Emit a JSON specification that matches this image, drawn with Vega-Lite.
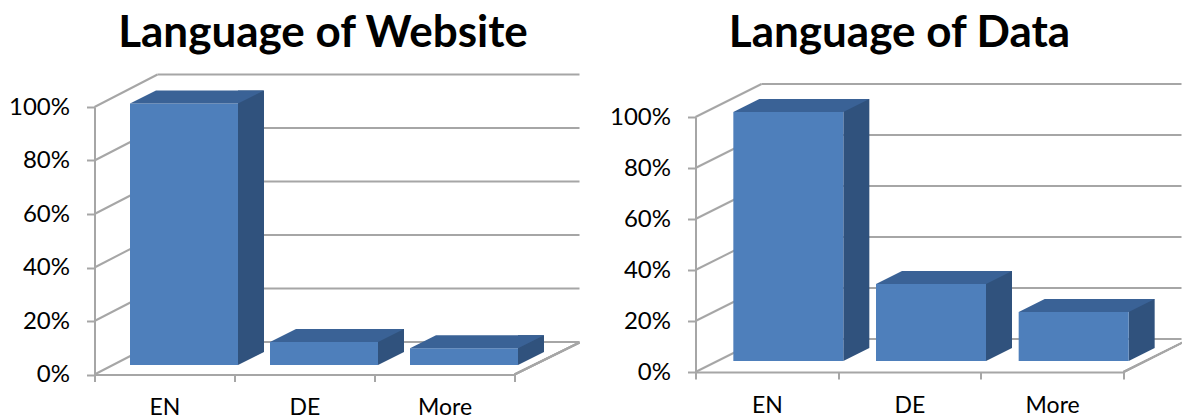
{"$schema":"https://vega.github.io/schema/vega-lite/v6.json","background":"white","padding":{"left":8.5,"top":12,"right":0,"bottom":0},"bounds":"flush","spacing":116,"config":{"view":{"stroke":null},"font":"Lato","axis":{"labelFont":"Lato","labelColor":"#000000","grid":false,"title":null}},"hconcat":[{"width":485,"height":314.5,"title":{"text":"Language of Website","font":"Lato","fontWeight":"bold","fontSize":44,"color":"#000000","anchor":"middle","dx":-14,"offset":4},"layer":[{"data":{"values":[{"tick":0},{"tick":20},{"tick":40},{"tick":60},{"tick":80},{"tick":100}]},"layer":[{"mark":{"type":"rule","yOffset":-32.5,"color":"#A6A6A6","strokeWidth":2},"encoding":{"y":{"field":"tick","type":"quantitative","scale":{"domain":[0,100],"range":[314.5,47]},"axis":{"values":[0,20,40,60,80,100],"labelExpr":"datum.value+'%'","labelFontSize":24,"labelPadding":17,"tickSize":8,"tickWidth":2,"tickColor":"#A6A6A6","domainColor":"#A6A6A6","domainWidth":2}},"x":{"value":63},"x2":{"value":485}}},{"mark":{"type":"point","shape":"M0 0 L63 -32.5","size":4,"filled":false,"stroke":"#A6A6A6","strokeWidth":2,"opacity":1},"encoding":{"y":{"field":"tick","type":"quantitative"},"x":{"value":0}}}]},{"data":{"values":[{"lang":"EN","value":97.8},{"lang":"DE","value":8.6},{"lang":"More","value":6.3}]},"encoding":{"x":{"field":"lang","type":"nominal","sort":null,"scale":{"domain":["EN","DE","More"],"range":[0,420],"padding":0},"axis":{"labelAngle":0,"labelFontSize":23,"labelPadding":15,"labelBaseline":"top","tickBand":"extent","tickSize":7,"tickWidth":2,"tickColor":"#A6A6A6","domainColor":"#A6A6A6","domainWidth":2}},"y":{"field":"value","type":"quantitative","stack":null},"y2":{"datum":0}},"layer":[{"mark":{"type":"point","shape":"M420 0 L485 -32","size":4,"filled":false,"stroke":"#A6A6A6","strokeWidth":2,"opacity":1},"encoding":{"x":{"value":0},"y":{"datum":0},"y2":null}},{"mark":{"type":"bar","size":26,"xOffset":86.5,"yOffset":-22.5,"y2Offset":-22.5,"color":"#30527D"}},{"mark":{"type":"point","shape":"M73.5 -9.5 L99.5 -22.5 L73.5 -22.5 Z","size":4,"filled":true,"fill":"#30527D","opacity":1},"encoding":{"y":{"datum":0},"y2":null}},{"mark":{"type":"bar","size":108,"xOffset":19.5,"yOffset":-9.5,"y2Offset":-9.5,"color":"#4E7FBB"}},{"mark":{"type":"point","shape":"M-34.5 -9.5 L73.5 -9.5 L99.5 -22.5 L-8.5 -22.5 Z","size":4,"filled":true,"fill":"#3A6296","opacity":1},"encoding":{"y2":null}}]}]},{"width":486,"height":312,"title":{"text":"Language of Data","font":"Lato","fontWeight":"bold","fontSize":44,"color":"#000000","anchor":"middle","dx":-39,"offset":4},"layer":[{"data":{"values":[{"tick":0},{"tick":20},{"tick":40},{"tick":60},{"tick":80},{"tick":100}]},"layer":[{"mark":{"type":"rule","yOffset":-33,"color":"#A6A6A6","strokeWidth":2},"encoding":{"y":{"field":"tick","type":"quantitative","scale":{"domain":[0,100],"range":[312,57]},"axis":{"values":[0,20,40,60,80,100],"labelExpr":"datum.value+'%'","labelFontSize":24,"labelPadding":17,"tickSize":8,"tickWidth":2,"tickColor":"#A6A6A6","domainColor":"#A6A6A6","domainWidth":2}},"x":{"value":66},"x2":{"value":486}}},{"mark":{"type":"point","shape":"M0 0 L66 -33","size":4,"filled":false,"stroke":"#A6A6A6","strokeWidth":2,"opacity":1},"encoding":{"y":{"field":"tick","type":"quantitative"},"x":{"value":0}}}]},{"data":{"values":[{"lang":"EN","value":97.6},{"lang":"DE","value":30.2},{"lang":"More","value":19.2}]},"encoding":{"x":{"field":"lang","type":"nominal","sort":null,"scale":{"domain":["EN","DE","More"],"range":[0,428],"padding":0},"axis":{"labelAngle":0,"labelFontSize":23,"labelPadding":15,"labelBaseline":"top","tickBand":"extent","tickSize":7,"tickWidth":2,"tickColor":"#A6A6A6","domainColor":"#A6A6A6","domainWidth":2}},"y":{"field":"value","type":"quantitative","stack":null},"y2":{"datum":0}},"layer":[{"mark":{"type":"point","shape":"M428 0 L494 -33","size":4,"filled":false,"stroke":"#A6A6A6","strokeWidth":2,"opacity":1},"encoding":{"x":{"value":0},"y":{"datum":0},"y2":null}},{"mark":{"type":"bar","size":26,"xOffset":89.5,"yOffset":-24,"y2Offset":-24,"color":"#30527D"}},{"mark":{"type":"point","shape":"M76.5 -11 L102.5 -24 L76.5 -24 Z","size":4,"filled":true,"fill":"#30527D","opacity":1},"encoding":{"y":{"datum":0},"y2":null}},{"mark":{"type":"bar","size":110,"xOffset":21.5,"yOffset":-11,"y2Offset":-11,"color":"#4E7FBB"}},{"mark":{"type":"point","shape":"M-33.5 -11 L76.5 -11 L102.5 -24 L-7.5 -24 Z","size":4,"filled":true,"fill":"#3A6296","opacity":1},"encoding":{"y2":null}}]}]}]}
